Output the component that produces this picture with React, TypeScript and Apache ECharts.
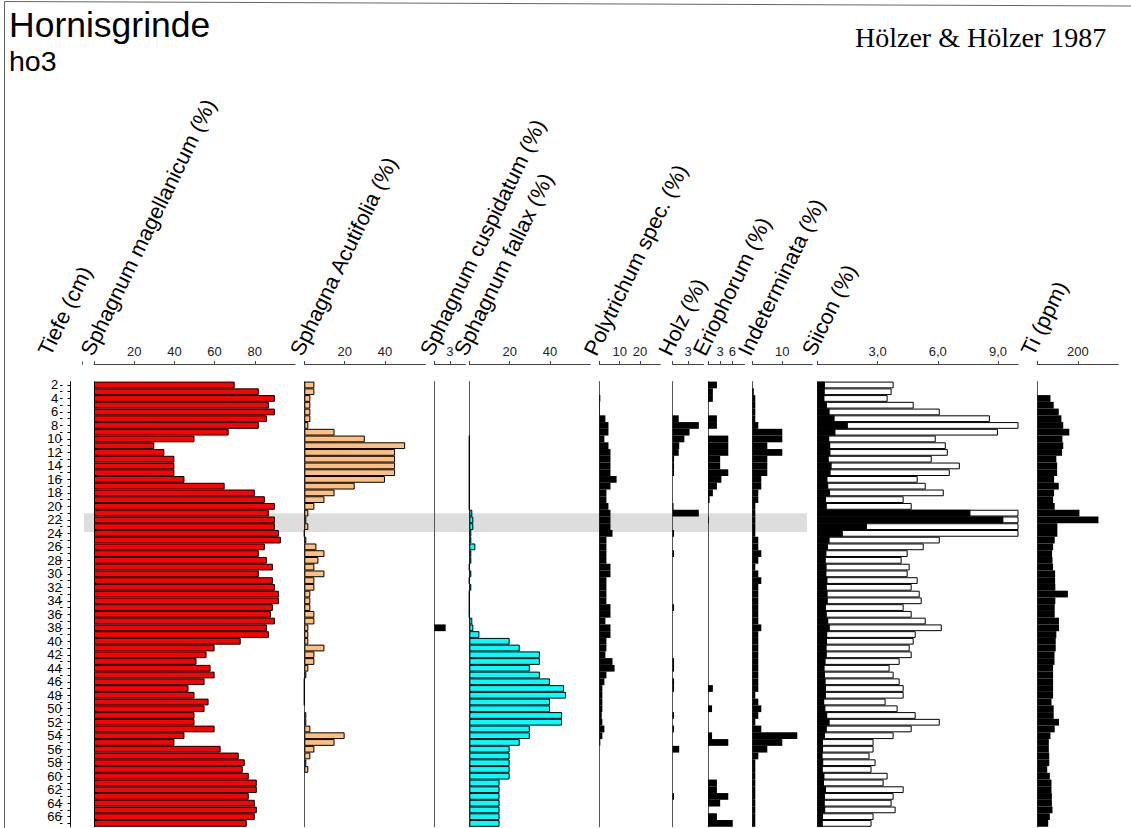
import React, { useEffect, useRef } from 'react';
import * as echarts from 'echarts';

// Sample depths (cm), one bar row per centimetre
const depths = [
  '2', '3', '4', '5', '6', '7', '8', '9', '10', '11',
  '12', '13', '14', '15', '16', '17', '18', '19', '20', '21',
  '22', '23', '24', '25', '26', '27', '28', '29', '30', '31',
  '32', '33', '34', '35', '36', '37', '38', '39', '40', '41',
  '42', '43', '44', '45', '46', '47', '48', '49', '50', '51',
  '52', '53', '54', '55', '56', '57', '58', '59', '60', '61',
  '62', '63', '64', '65', '66', '67',
];

const magellanicum = [
  70, 82, 90, 87, 90, 86, 82, 67, 50, 30,
  35, 40, 40, 40, 45, 65, 80, 85, 90, 87,
  90, 90, 92, 93, 85, 82, 86, 89, 82, 89,
  90, 92, 92, 89, 88, 90, 86, 87, 73, 60,
  56, 51, 58, 60, 55, 47, 50, 57, 55, 50,
  50, 60, 45, 40, 63, 72, 75, 74, 77, 81,
  81, 77, 80, 81, 80, 76,
];

const acutifolia = [
  5, 5, 3, 3, 3, 3, 2, 15, 30, 50,
  45, 45, 45, 45, 40, 25, 15, 10, 5, 2,
  1, 2, 0, 1, 6, 10, 7, 5, 10, 5,
  5, 3, 3, 3, 5, 5, 2, 2, 2, 10,
  5, 5, 2, 1, 0, 0, 0, 0, null, 1,
  1, 3, 20, 15, 5, 3, 1, 2, null, null,
  null, null, null, null, null, null,
];

const cuspidatum = [
  0, 0, 0, 0, 0, 0, 0, 0, 0, 0,
  0, 0, 0, 0, 0, 0, 0, 0, 0, 0,
  0, 0, 0, 0, 0, 0, 0, 0, 0, 0,
  0, 0, 0, 0, 0, 0, 2.2, 0, 0, 0,
  0, 0, 0, 0, 0, 0, 0, 0, 0, 0,
  0, 0, 0, 0, 0, 0, 0, 0, 0, 0,
  0, 0, 0, 0, 0, 0,
];

const fallax = [
  null, null, null, null, null, null, null, null, 0, 0,
  0, 0, 0, 0, 0, 0, 0, 0, 0, 1.5,
  2, 2, 1, 1, 3, 1, 1, 0, 1, 0,
  1, 0, 0, 0, 0, 1.5, 2, 5, 20, 25,
  35, 35, 30, 35, 40, 47, 48, 40, 40, 46,
  46, 30, 30, 25, 20, 20, 20, 20, 20, 15,
  15, 15, 15, 15, 15, 15,
];

const polytrichum = [
  0, 0, 0.5, 0.3, 0.3, 3, 4.5, 4.5, 2.5, 4.5,
  5.5, 5.5, 5.5, 5.5, 8.5, 5.5, 3.5, 3.5, 4.5, 5.5,
  5.5, 5.5, 6.5, 3.5, 3.5, 3.5, 3.5, 5.5, 5.5, 3.5,
  3.5, 3.5, 3.5, 5.5, 5.5, 3, 5.5, 5.5, 3.5, 3.5,
  3, 6.5, 7.5, 3.5, 2.5, 1.5, 1.5, 1.5, 1.5, 1.2,
  1.5, 2.5, 1.5, 0.5, 0, 0, 0, 0, 0, 0,
  0, 0, 0, 0, 0, 0,
];

const holz = [
  0, 0, 0, 0, 0, 1.2, 5.1, 3.3, 2.3, 1.3,
  1.2, 0.3, 0.3, 0.3, 0, 0, 0, 0, 0.2, 5.1,
  0, 0, 0.3, 0, 0, 0.3, 0, 0, 0, 0,
  0, 0, 0, 0.3, 0, 0, 0, 0, 0, 0,
  0, 0.3, 0.3, 0, 0.3, 0.3, 0, 0, 0, 0.3,
  0, 0.3, 0, 0, 1.3, 0, 0, 0, 0, 0,
  0, 0.3, 0, 0, 0, 0,
];

const eriophorum = [
  2.2, 1.2, 1.2, 0, 0, 2.2, 2.2, 0, 5, 5,
  5, 3, 3, 5, 3.3, 2.2, 1.2, 0.4, 0, 0,
  0.2, 0, 0, 0, 0, 0, 0, 0, 0, 0,
  0, 0, 0, 0, 0, 0, 0, 0, 0, 0,
  0, 0, 0, 0, 0, 1.2, 0, 0, 1, 0,
  0, 0, 1, 5, 0, 0, 0, 0, 0, 2.2,
  2.2, 5, 3, 0, 2.2, 6.1,
];

const indeterminata = [
  0, 0.5, 1, 1, 1, 1, 2, 10, 10, 5,
  10, 5, 5, 5, 3, 3, 2, 2, 1, 1,
  1, 1, 1, 2, 2, 3, 2, 1, 2, 3,
  2, 2, 2, 2, 2, 2, 3, 2, 2, 2,
  2, 2, 2, 2, 2, 2, 1, 2, 3, 2,
  1, 3, 15, 10, 5, 2, 1, 1, 1, 1,
  1, 1, 1, 1, 1, 1,
];

const silicon = [
  0.38, 0.37, 0.35, 0.48, 0.61, 0.86, 1.52, 0.9, 0.59, 0.64,
  0.65, 0.57, 0.71, 0.66, 0.5, 0.54, 0.63, 0.43, 0.47, 7.63,
  9.27, 2.47, 1.27, 0.61, 0.53, 0.45, 0.42, 0.46, 0.45, 0.5,
  0.47, 0.51, 0.52, 0.43, 0.47, 0.54, 0.62, 0.49, 0.48, 0.46,
  0.47, 0.41, 0.36, 0.38, 0.41, 0.43, 0.43, 0.34, 0.4, 0.49,
  0.61, 0.47, 0.38, 0.28, 0.28, 0.26, 0.29, 0.27, 0.35, 0.33,
  0.43, 0.38, 0.37, 0.39, 0.28, 0.27,
];
const siliconExaggeration = 10;

const titan = [
  0, 0, 65, 81, 106, 119, 128, 158, 124, 128,
  122, 94, 98, 98, 83, 106, 83, 78, 86, 208,
  302, 99, 99, 86, 78, 73, 75, 78, 88, 88,
  89, 151, 89, 86, 86, 107, 107, 94, 91, 91,
  85, 85, 78, 78, 78, 78, 78, 70, 81, 81,
  107, 86, 65, 57, 57, 59, 59, 49, 62, 70,
  70, 72, 72, 75, 62, 54,
];

// Highlighted depth interval (cm)
const bandFrom = 21;
const bandTo = 23.8;

const SANS = '"Liberation Sans", Arial, Helvetica, sans-serif';
const SERIF = '"Liberation Serif", "Times New Roman", serif';

const TOP = 381.6;
const ROW = 6.745;
const AXIS_Y = 364;
const HEADER_SIZE = 21.5;
const HEADER_ANGLE = (64 * Math.PI) / 180;

type Panel = {
  title: string;
  data: (number | null)[];
  left: number;
  width: number;
  max: number;
  ticks: number[];
  labels: number[];
  color: string;
  outline: boolean;
  headerX: number;
  fmt?: (v: number) => string;
};

const panels: Panel[] = [
  { title: 'Sphagnum magellanicum (%)', data: magellanicum, left: 94, width: 201, max: 100, ticks: [0, 20, 40, 60, 80], labels: [20, 40, 60, 80], color: '#ff0000', outline: true, headerX: 93.5 },
  { title: 'Sphagna Acutifolia (%)', data: acutifolia, left: 304.3, width: 121, max: 60, ticks: [0, 20, 40], labels: [20, 40], color: '#ffbf80', outline: true, headerX: 303 },
  { title: 'Sphagnum cuspidatum (%)', data: cuspidatum, left: 434.3, width: 31, max: 6, ticks: [0, 3], labels: [3], color: '#000000', outline: false, headerX: 433 },
  { title: 'Sphagnum fallax (%)', data: fallax, left: 469.3, width: 121, max: 60, ticks: [0, 20, 40], labels: [20, 40], color: '#00ffff', outline: true, headerX: 467 },
  { title: 'Polytrichum spec. (%)', data: polytrichum, left: 599.3, width: 61, max: 30, ticks: [0, 10, 20], labels: [10, 20], color: '#000000', outline: false, headerX: 597 },
  { title: 'Holz (%)', data: holz, left: 672.5, width: 31, max: 6, ticks: [0, 3], labels: [3], color: '#000000', outline: false, headerX: 671.5 },
  { title: 'Eriophorum (%)', data: eriophorum, left: 708, width: 36.5, max: 9, ticks: [0, 3, 6], labels: [3, 6], color: '#000000', outline: false, headerX: 706 },
  { title: 'Indeterminata (%)', data: indeterminata, left: 752.3, width: 60, max: 20, ticks: [0, 10], labels: [10], color: '#000000', outline: false, headerX: 751 },
  { title: 'Siicon (%)', data: silicon, left: 817.4, width: 200.6, max: 10, ticks: [0, 3, 6, 9], labels: [3, 6, 9], color: '#000000', outline: false, headerX: 815, fmt: (v) => v.toFixed(1).replace('.', ',') },
  { title: 'Ti (ppm)', data: titan, left: 1037.3, width: 81, max: 400, ticks: [0, 200], labels: [200], color: '#000000', outline: false, headerX: 1034 },
];

// Rotated column header: anchor so the baseline starts at (bx, by)
function header(text: string, bx: number, by: number) {
  const d = 0.3465 * HEADER_SIZE;
  return {
    type: 'text',
    x: bx - d * Math.sin(HEADER_ANGLE),
    y: by - d * Math.cos(HEADER_ANGLE),
    rotation: HEADER_ANGLE,
    silent: true,
    style: {
      text,
      x: 0,
      y: 0,
      fill: '#000',
      fontSize: HEADER_SIZE,
      lineHeight: HEADER_SIZE,
      fontFamily: SANS,
      align: 'left',
      verticalAlign: 'middle',
      textAlign: 'left',
      textVerticalAlign: 'middle',
    },
  };
}

// Plain horizontal text placed by its baseline
function label(text: string, x: number, baseline: number, size: number, family: string, central: number) {
  return {
    type: 'text',
    x,
    y: baseline - central * size,
    silent: true,
    style: {
      text,
      x: 0,
      y: 0,
      fill: '#000',
      fontSize: size,
      lineHeight: size,
      fontFamily: family,
      align: 'left',
      verticalAlign: 'middle',
      textAlign: 'left',
      textVerticalAlign: 'middle',
    },
  };
}

function buildOption() {
  const height = depths.length * ROW;
  const grids: any[] = [];
  const xAxes: any[] = [];
  const yAxes: any[] = [];
  const series: any[] = [];

  // Depth scale: labels and outer tick halves
  grids.push({ left: 70, top: TOP, width: 10, height });
  xAxes.push({ gridIndex: 0, type: 'value', show: false });
  yAxes.push({
    gridIndex: 0,
    type: 'category',
    data: depths,
    inverse: true,
    position: 'left',
    axisLine: { show: true, lineStyle: { color: '#000', width: 1 } },
    axisTick: { show: true, interval: 0, alignWithLabel: true, length: 2.5, lineStyle: { color: '#000' } },
    axisLabel: { interval: 1, align: 'center', margin: 15.5, fontSize: 13, fontFamily: SANS, color: '#000' },
    splitLine: { show: false },
  });
  // Depth scale: inner tick halves
  grids.push({ left: 60, top: TOP, width: 10, height });
  xAxes.push({ gridIndex: 1, type: 'value', show: false });
  yAxes.push({
    gridIndex: 1,
    type: 'category',
    data: depths,
    inverse: true,
    position: 'right',
    axisLine: { show: false },
    axisTick: { show: true, interval: 0, alignWithLabel: true, length: 2.5, lineStyle: { color: '#000' } },
    axisLabel: { show: false },
    splitLine: { show: false },
  });

  panels.forEach((p, k) => {
    const gi = k + 2;
    grids.push({ left: p.left, top: TOP, width: p.width, height });
    xAxes.push({
      gridIndex: gi,
      type: 'value',
      position: 'top',
      offset: TOP - AXIS_Y,
      min: 0,
      max: p.max,
      axisLine: { show: true, lineStyle: { color: '#444', width: 1 } },
      axisTick: { show: true, length: 3, customValues: p.ticks, lineStyle: { color: '#444' } },
      axisLabel: {
        show: true,
        customValues: p.labels,
        margin: 6,
        fontSize: 13,
        fontFamily: SANS,
        color: '#222',
        formatter: p.fmt ? (v: number) => p.fmt!(v) : (v: number) => String(v),
      },
      splitLine: { show: false },
    });
    yAxes.push({
      gridIndex: gi,
      type: 'category',
      data: depths,
      inverse: true,
      axisLine: { show: true, lineStyle: { color: '#555', width: 1 } },
      axisTick: { show: false },
      axisLabel: { show: false },
      splitLine: { show: false },
    });

    if (p.title.startsWith('Siicon')) {
      series.push({
        type: 'bar',
        xAxisIndex: gi,
        yAxisIndex: gi,
        data: p.data.map((v) => (v == null ? null : v * siliconExaggeration)),
        barCategoryGap: '0%',
        barGap: '-100%',
        itemStyle: { color: '#ffffff', borderColor: '#000', borderWidth: 1 },
        silent: true,
      });
      series.push({
        type: 'bar',
        xAxisIndex: gi,
        yAxisIndex: gi,
        data: p.data,
        barCategoryGap: '0%',
        barGap: '-100%',
        itemStyle: { color: '#000000', borderWidth: 0 },
        silent: true,
      });
    } else {
      series.push({
        type: 'bar',
        xAxisIndex: gi,
        yAxisIndex: gi,
        data: p.data,
        barCategoryGap: '0%',
        itemStyle: p.outline
          ? { color: p.color, borderColor: '#000', borderWidth: 1 }
          : { color: p.color, borderWidth: 0 },
        silent: true,
      });
    }
  });

  const graphics: any[] = [
    // highlighted depth interval behind the bars
    {
      type: 'rect',
      z: -10,
      silent: true,
      shape: {
        x: 84,
        y: TOP + (bandFrom - 2 + 0.5) * ROW,
        width: 723,
        height: (bandTo - bandFrom) * ROW,
      },
      style: { fill: '#dddddd' },
    },
    // frame
    { type: 'line', silent: true, shape: { x1: 4.5, y1: 1.5, x2: 4.5, y2: 828 }, style: { stroke: '#666', lineWidth: 1 } },
    { type: 'line', silent: true, shape: { x1: 4.5, y1: 1.5, x2: 1131, y2: 6 }, style: { stroke: '#666', lineWidth: 1 } },
    // small mark above the depth column
    { type: 'line', silent: true, shape: { x1: 82.5, y1: 361.5, x2: 82.5, y2: 364.5 }, style: { stroke: '#444', lineWidth: 1 } },
    label('Hornisgrinde', 9, 37.5, 35.5, SANS, 0.3465),
    label('ho3', 9, 70.5, 28.5, SANS, 0.3465),
    label('Hölzer & Hölzer 1987', 855, 47, 28, SERIF, 0.3375),
    header('Tiefe (cm)', 51, 357.5),
  ];
  panels.forEach((p) => graphics.push(header(p.title, p.headerX, 357.5)));

  return {
    animation: false,
    backgroundColor: '#ffffff',
    grid: grids,
    xAxis: xAxes,
    yAxis: yAxes,
    series,
    graphic: { elements: graphics },
  };
}

export default function App() {
  const ref = useRef<HTMLDivElement>(null);
  useEffect(() => {
    if (!ref.current) return;
    const chart = echarts.init(ref.current, null, { renderer: 'svg' });
    chart.setOption(buildOption() as any);
    return () => chart.dispose();
  }, []);
  return (
    <div
      ref={ref}
      style={{ position: 'absolute', left: 0, top: 0, width: 1131, height: 828, background: '#fff' }}
    />
  );
}
